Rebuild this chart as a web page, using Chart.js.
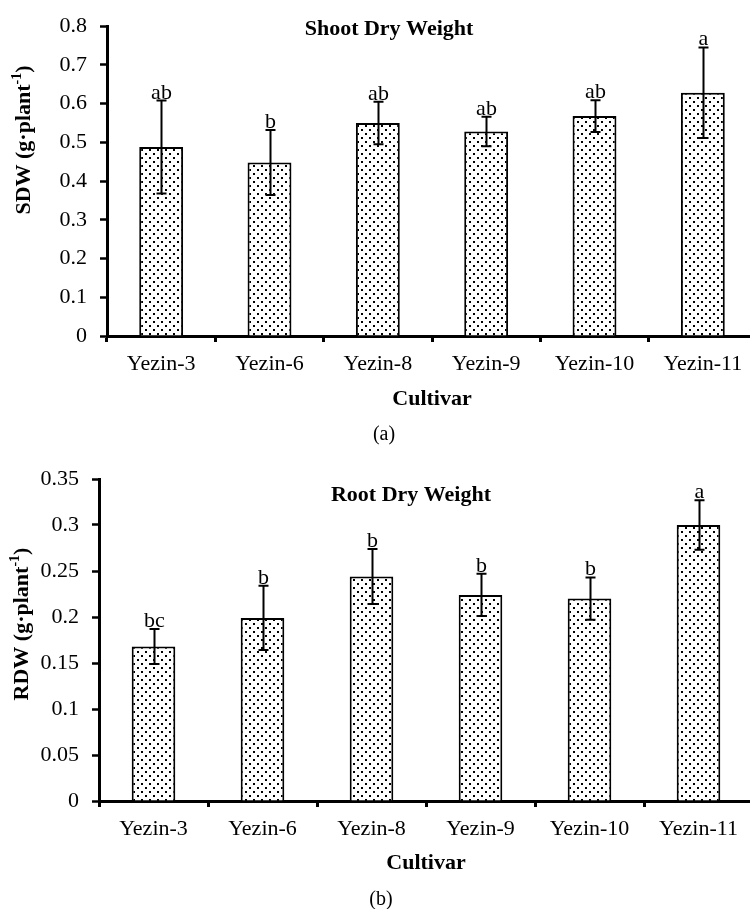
<!DOCTYPE html>
<html>
<head>
<meta charset="utf-8">
<script src="https://cdn.jsdelivr.net/npm/chart.js@4.4.0/dist/chart.umd.min.js"></script>
<style>
  html, body { margin: 0; padding: 0; background: #fff; overflow: hidden; width: 750px; height: 909px; }
  #wrap { position: relative; width: 760px; height: 909px; }
  canvas { position: absolute; left: 0; }
  #c1 { top: 0; }
  #c2 { top: 450px; }
</style>
</head>
<body>
<div id="wrap">
  <canvas id="c1" width="760" height="450"></canvas>
  <canvas id="c2" width="760" height="459"></canvas>
</div>
<script>
// ---- data ----
const categories = ['Yezin-3', 'Yezin-6', 'Yezin-8', 'Yezin-9', 'Yezin-10', 'Yezin-11'];

const sdwMean    = [0.488, 0.448, 0.550, 0.528, 0.568, 0.628];
const sdwErr     = [0.120, 0.084, 0.055, 0.038, 0.041, 0.117];
const sdwLetters = ['ab', 'b', 'ab', 'ab', 'ab', 'a'];
const sdwTicks   = ['0', '0.1', '0.2', '0.3', '0.4', '0.5', '0.6', '0.7', '0.8'];

const rdwMean    = [0.168, 0.199, 0.244, 0.224, 0.220, 0.300];
const rdwErr     = [0.019, 0.035, 0.030, 0.023, 0.023, 0.027];
const rdwLetters = ['bc', 'b', 'b', 'b', 'b', 'a'];
const rdwTicks   = ['0', '0.05', '0.1', '0.15', '0.2', '0.25', '0.3', '0.35'];

// ---- styling helpers ----
const SERIF = '"Liberation Serif", "Times New Roman", serif';

function makeDotPattern() {
  const c = document.createElement('canvas');
  c.width = 8; c.height = 8;
  const g = c.getContext('2d');
  g.fillStyle = '#fff'; g.fillRect(0, 0, 8, 8);
  g.fillStyle = '#000';
  g.fillRect(1, 1, 2, 2);
  g.fillRect(5, 5, 2, 2);
  return g.createPattern(c, 'repeat');
}

const annotPlugin = {
  id: 'annot',
  afterDatasetsDraw(chart, args, o) {
    const ctx = chart.ctx;
    const xs = chart.scales.x, ys = chart.scales.y;
    const data = chart.data.datasets[0].data;
    ctx.save();
    ctx.strokeStyle = '#000';
    ctx.fillStyle = '#000';
    ctx.lineWidth = 2;
    data.forEach((v, i) => {
      const e = o.err[i];
      const cx = Math.round(xs.getPixelForValue(i)) + 0.5;
      const yt = ys.getPixelForValue(v + e);
      const yb = ys.getPixelForValue(v - e);
      ctx.beginPath();
      ctx.moveTo(cx, yt); ctx.lineTo(cx, yb);
      ctx.moveTo(cx - 5, yt); ctx.lineTo(cx + 5, yt);
      ctx.moveTo(cx - 5, yb); ctx.lineTo(cx + 5, yb);
      ctx.stroke();
      ctx.font = '22px ' + SERIF;
      ctx.textAlign = 'center';
      ctx.textBaseline = 'alphabetic';
      ctx.fillText(o.letters[i], cx, yt - 2);
    });

    // main title
    ctx.font = 'bold 22px ' + SERIF;
    ctx.textAlign = 'center';
    ctx.textBaseline = 'alphabetic';
    ctx.fillText(o.title, o.titleX, o.titleY);

    // x-axis title
    ctx.fillText('Cultivar', (chart.chartArea.left + chart.chartArea.right) / 2, o.xTitleY);

    // caption
    ctx.font = '20px ' + SERIF;
    ctx.textBaseline = 'middle';
    ctx.fillText(o.caption, o.capX, o.capY);

    // y-axis title with superscript
    ctx.save();
    ctx.translate(o.yTitleX, o.yTitleY);
    ctx.rotate(-Math.PI / 2);
    const mainTxt = o.yLabel + ' (g\u00B7plant';
    const supTxt = '-1';
    const tailTxt = ')';
    ctx.font = 'bold 22px ' + SERIF;
    const w1 = ctx.measureText(mainTxt).width;
    const w3 = ctx.measureText(tailTxt).width;
    ctx.font = 'bold 14px ' + SERIF;
    const w2 = ctx.measureText(supTxt).width;
    const total = w1 + w2 + w3;
    let x0 = -total / 2;
    ctx.textAlign = 'left';
    ctx.textBaseline = 'middle';
    ctx.font = 'bold 22px ' + SERIF;
    ctx.fillText(mainTxt, x0, 0);
    ctx.font = 'bold 14px ' + SERIF;
    ctx.fillText(supTxt, x0 + w1, -7);
    ctx.font = 'bold 22px ' + SERIF;
    ctx.fillText(tailTxt, x0 + w1 + w2, 0);
    ctx.restore();

    ctx.restore();
  }
};

function buildChart(canvasId, values, errs, letters, tickLabels, yMax, yStep, cfg) {
  const pattern = makeDotPattern();
  return new Chart(document.getElementById(canvasId), {
    type: 'bar',
    data: {
      labels: categories,
      datasets: [{
        data: values,
        backgroundColor: pattern,
        borderColor: '#000',
        borderWidth: 2,
        borderSkipped: 'bottom',
        barPercentage: cfg.barPct,
        categoryPercentage: 1.0
      }]
    },
    options: {
      responsive: false,
      animation: false,
      devicePixelRatio: 1,
      layout: { padding: { left: 0, right: cfg.padRight, top: cfg.padTop, bottom: 0 } },
      plugins: {
        legend: { display: false },
        tooltip: { enabled: false },
        title: { display: false },
        annot: {
          err: errs, letters: letters,
          title: cfg.title, titleX: cfg.titleX, titleY: cfg.titleY,
          xTitleY: cfg.xTitleY,
          caption: cfg.caption, capX: cfg.capX, capY: cfg.capY,
          yLabel: cfg.yLabel, yTitleX: cfg.yTitleX, yTitleY: cfg.yTitleY
        }
      },
      scales: {
        x: {
          afterFit(scale) { scale.height = cfg.xHeight; },
          grid: {
            offset: true,
            drawOnChartArea: false,
            drawTicks: true,
            tickLength: 6,
            tickWidth: 3,
            tickColor: '#000',
            color: '#000'
          },
          border: { display: true, color: '#000', width: 3 },
          ticks: {
            color: '#000',
            font: { family: SERIF, size: 22 },
            padding: 9,
            maxRotation: 0,
            autoSkip: false
          }
        },
        y: {
          min: 0,
          max: yMax,
          afterFit(scale) { scale.width = cfg.yWidth; },
          grid: {
            drawOnChartArea: false,
            drawTicks: true,
            tickLength: 7,
            tickWidth: 2.5,
            tickColor: '#000',
            color: '#000'
          },
          border: { display: true, color: '#000', width: 3 },
          ticks: {
            stepSize: yStep,
            color: '#000',
            font: { family: SERIF, size: 22 },
            padding: 13,
            callback: (v, i) => tickLabels[i]
          }
        }
      }
    },
    plugins: [annotPlugin]
  });
}

buildChart('c1', sdwMean, sdwErr, sdwLetters, sdwTicks, 0.8, 0.1, {
  barPct: 0.405, padRight: 3, padTop: 21, xHeight: 114, yWidth: 107,
  title: 'Shoot Dry Weight', titleX: 389, titleY: 35,
  xTitleY: 405, caption: '(a)', capX: 384, capY: 435,
  yLabel: 'SDW', yTitleX: 24, yTitleY: 140
});

buildChart('c2', rdwMean, rdwErr, rdwLetters, rdwTicks, 0.35, 0.05, {
  barPct: 0.4, padRight: 7, padTop: 29, xHeight: 108, yWidth: 99,
  title: 'Root Dry Weight', titleX: 411, titleY: 51,
  xTitleY: 419, caption: '(b)', capX: 381, capY: 450,
  yLabel: 'RDW', yTitleX: 22, yTitleY: 174
});
</script>
</body>
</html>
